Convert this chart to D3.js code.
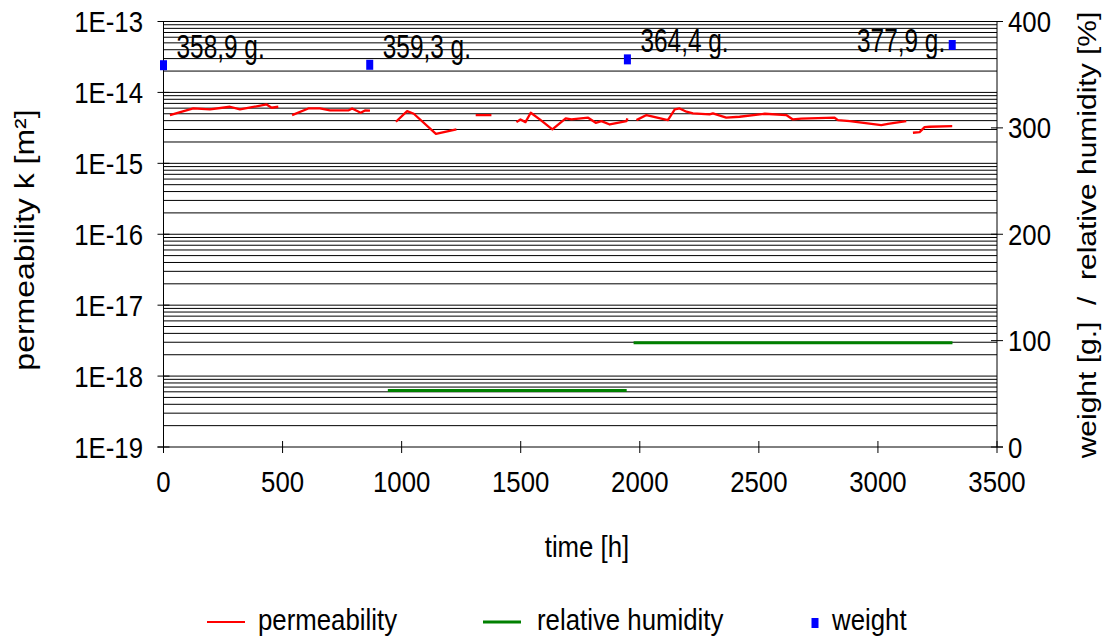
<!DOCTYPE html>
<html>
<head>
<meta charset="utf-8">
<script src="https://cdn.jsdelivr.net/npm/d3@7"></script>
<style>
  html, body { margin: 0; padding: 0; background: #fff; }
  svg { display: block; font-family: "Liberation Sans", Arial, sans-serif; }
  text { white-space: pre; }
</style>
</head>
<body>
<svg id="chart" width="1107" height="637"></svg>
<script>
// ---- data -------------------------------------------------------------
// permeability k [m²] over time [h]; null marks a gap between runs
const permTime = [
  27, 125, 195, 279, 321, 433, 454, 482, null,
  540, 608, 657, 699, 776, 792, 828, 846, 867, null,
  976, 1023, 1051, 1144, 1230, null,
  1311, 1377, null,
  1482, 1499, 1520, 1542, 1580, 1633, 1689, 1713, 1783, 1815, 1839, 1874, 1944, 1948, null,
  1986, 2028, 2118, 2147, 2167, 2196, 2223, 2293, 2307, 2363, 2419, 2525, 2615, 2643, 2678,
  2818, 2832, 2882, 3014, 3042, 3119, null,
  3147, 3175, 3196, 3217, 3312
];
const permK = [
  4.79e-15, 5.94e-15, 5.75e-15, 6.28e-15, 5.75e-15, 6.77e-15, 6.08e-15, 6.28e-15, null,
  4.79e-15, 5.94e-15, 5.94e-15, 5.57e-15, 5.57e-15, 5.94e-15, 5.16e-15, 5.57e-15, 5.52e-15, null,
  3.86e-15, 5.45e-15, 5.0e-15, 2.61e-15, 3.01e-15, null,
  4.79e-15, 4.79e-15, null,
  3.81e-15, 4.16e-15, 3.81e-15, 5.16e-15, 4.16e-15, 3.01e-15, 4.30e-15, 4.16e-15, 4.40e-15, 3.73e-15, 3.94e-15, 3.53e-15, 3.94e-15, 4.30e-15, null,
  4.07e-15, 4.79e-15, 4.07e-15, 5.75e-15, 5.94e-15, 5.35e-15, 5.06e-15, 4.89e-15, 5.06e-15, 4.40e-15, 4.54e-15, 5.0e-15, 4.79e-15, 4.16e-15, 4.26e-15,
  4.40e-15, 4.07e-15, 3.94e-15, 3.45e-15, 3.61e-15, 3.94e-15, null,
  2.70e-15, 2.75e-15, 3.24e-15, 3.28e-15, 3.34e-15
];

// relative humidity [%] (two humid phases)
const rhTime  = [942, 1945, null, 1974, 3313];
const rhValue = [53, 53, null, 98, 98];

// sample weight [g.]
const weightTime  = [0, 866, 1948, 3312];
const weightValue = [358.9, 359.3, 364.4, 377.9];
const weightLabel = ["358,9 g.", "359,3 g.", "364,4 g.", "377,9 g."];

// axis ticks
const timeTicks  = [0, 500, 1000, 1500, 2000, 2500, 3000, 3500];
const kTicks     = [1e-13, 1e-14, 1e-15, 1e-16, 1e-17, 1e-18, 1e-19];
const kTickLabel = ["1E-13", "1E-14", "1E-15", "1E-16", "1E-17", "1E-18", "1E-19"];
const rightTicks = [0, 100, 200, 300, 400];

// ---- layout -----------------------------------------------------------
const L = 163.5, R = 997, T = 21.5, B = 447;
const SX = 0.86;            // horizontal condensing of the lettering
const FONT = 30;

const svg = d3.select("#chart");

const x  = d3.scaleLinear().domain([0, 3500]).range([L, R]);
const yk = d3.scaleLog().domain([1e-19, 1e-13]).range([B, T]);
const yr = d3.scaleLinear().domain([0, 400]).range([B, T]);

function label(parent, px, py, s, opt = {}) {
  const rot = opt.rotate ? ` rotate(${opt.rotate})` : "";
  const sx = opt.sx || SX;
  return parent.append("text")
    .attr("transform", `translate(${px},${py}) scale(${sx},1)${rot}`)
    .attr("text-anchor", opt.anchor || "start")
    .attr("dy", opt.dy || null)
    .attr("font-size", opt.size || FONT)
    .attr("fill", "#000")
    .text(s);
}

// ---- horizontal grid at every log step -------------------------------
const gridVals = [];
for (let e = -19; e < -13; e++) {
  for (let m = 1; m <= 9; m++) gridVals.push(m * Math.pow(10, e));
}
gridVals.push(1e-13);

svg.append("g")
  .selectAll("line")
  .data(gridVals.filter(v => v > 1e-19))
  .join("line")
  .attr("x1", L).attr("x2", R)
  .attr("y1", d => yk(d)).attr("y2", d => yk(d))
  .attr("stroke", "#000").attr("stroke-width", 1);

// ---- axes -------------------------------------------------------------
const axes = svg.append("g").attr("stroke", "#000").attr("stroke-width", 1);
axes.append("line").attr("x1", L).attr("x2", L).attr("y1", T).attr("y2", B);
axes.append("line").attr("x1", R).attr("x2", R).attr("y1", T).attr("y2", B);
axes.append("line").attr("x1", L - 6).attr("x2", R + 6).attr("y1", B).attr("y2", B);

// left major ticks
axes.selectAll(".kt").data(kTicks).join("line").attr("class", "kt")
  .attr("x1", L - 6).attr("x2", L + 6)
  .attr("y1", d => yk(d)).attr("y2", d => yk(d));
// right ticks
axes.selectAll(".rt").data(rightTicks).join("line").attr("class", "rt")
  .attr("x1", R - 6).attr("x2", R + 6)
  .attr("y1", d => yr(d)).attr("y2", d => yr(d));
// bottom ticks
axes.selectAll(".tt").data(timeTicks).join("line").attr("class", "tt")
  .attr("x1", d => x(d)).attr("x2", d => x(d))
  .attr("y1", B - 6).attr("y2", B + 6);

// tick labels
const tl = svg.append("g");
kTicks.forEach((v, i) => label(tl, 143, yk(v), kTickLabel[i], { anchor: "end", dy: "0.35em" }));
rightTicks.forEach(v => label(tl, 1008, yr(v), String(v), { anchor: "start", dy: "0.35em" }));
timeTicks.forEach(v => label(tl, x(v), 492, String(v), { anchor: "middle" }));

// axis titles
label(svg, 587, 557, "time [h]", { anchor: "middle" });
label(svg, 34, 240, "permeability k [m\u00B2]", { anchor: "middle", rotate: -90, size: 32 });
label(svg, 1096, 235, "weight [g.]  /  relative humidity [%]", { anchor: "middle", rotate: -90 });

// ---- series -----------------------------------------------------------
const permData = permTime.map((t, i) => ({ t, v: permK[i] }));
svg.append("path")
  .datum(permData)
  .attr("fill", "none").attr("stroke", "#ff0000").attr("stroke-width", 2.3)
  .attr("stroke-linejoin", "round")
  .attr("d", d3.line().defined(d => d.t !== null && d.v !== null)
    .x(d => x(d.t)).y(d => yk(d.v)));

const rhData = rhTime.map((t, i) => ({ t, v: rhValue[i] }));
svg.append("path")
  .datum(rhData)
  .attr("fill", "none").attr("stroke", "#008000").attr("stroke-width", 3)
  .attr("d", d3.line().defined(d => d.t !== null && d.v !== null)
    .x(d => x(d.t)).y(d => yr(d.v)));

const wData = weightTime.map((t, i) => ({ t, v: weightValue[i], s: weightLabel[i] }));
svg.append("g").selectAll("rect").data(wData).join("rect")
  .attr("x", d => x(d.t) - 3.5).attr("y", d => yr(d.v) - 5)
  .attr("width", 7).attr("height", 10)
  .attr("fill", "#0000ff");

// value labels beside the weight markers (last one sits to the left)
const wl = svg.append("g");
wData.forEach((d, i) => {
  const last = i === wData.length - 1;
  label(wl, last ? x(d.t) - 7 : x(d.t) + 13, last ? yr(d.v) + 7 : yr(d.v) - 7, d.s,
    { anchor: last ? "end" : "start", size: 33, sx: 0.74 });
});

// ---- legend -----------------------------------------------------------
const lg = svg.append("g");
lg.append("line").attr("x1", 207).attr("x2", 245).attr("y1", 622).attr("y2", 622)
  .attr("stroke", "#ff0000").attr("stroke-width", 2);
label(lg, 258, 630, "permeability");
lg.append("line").attr("x1", 483).attr("x2", 521).attr("y1", 622).attr("y2", 622)
  .attr("stroke", "#008000").attr("stroke-width", 3);
label(lg, 537, 630, "relative humidity");
lg.append("rect").attr("x", 811.5).attr("y", 618).attr("width", 7).attr("height", 10)
  .attr("fill", "#0000ff");
label(lg, 832, 630, "weight");
</script>
</body>
</html>
